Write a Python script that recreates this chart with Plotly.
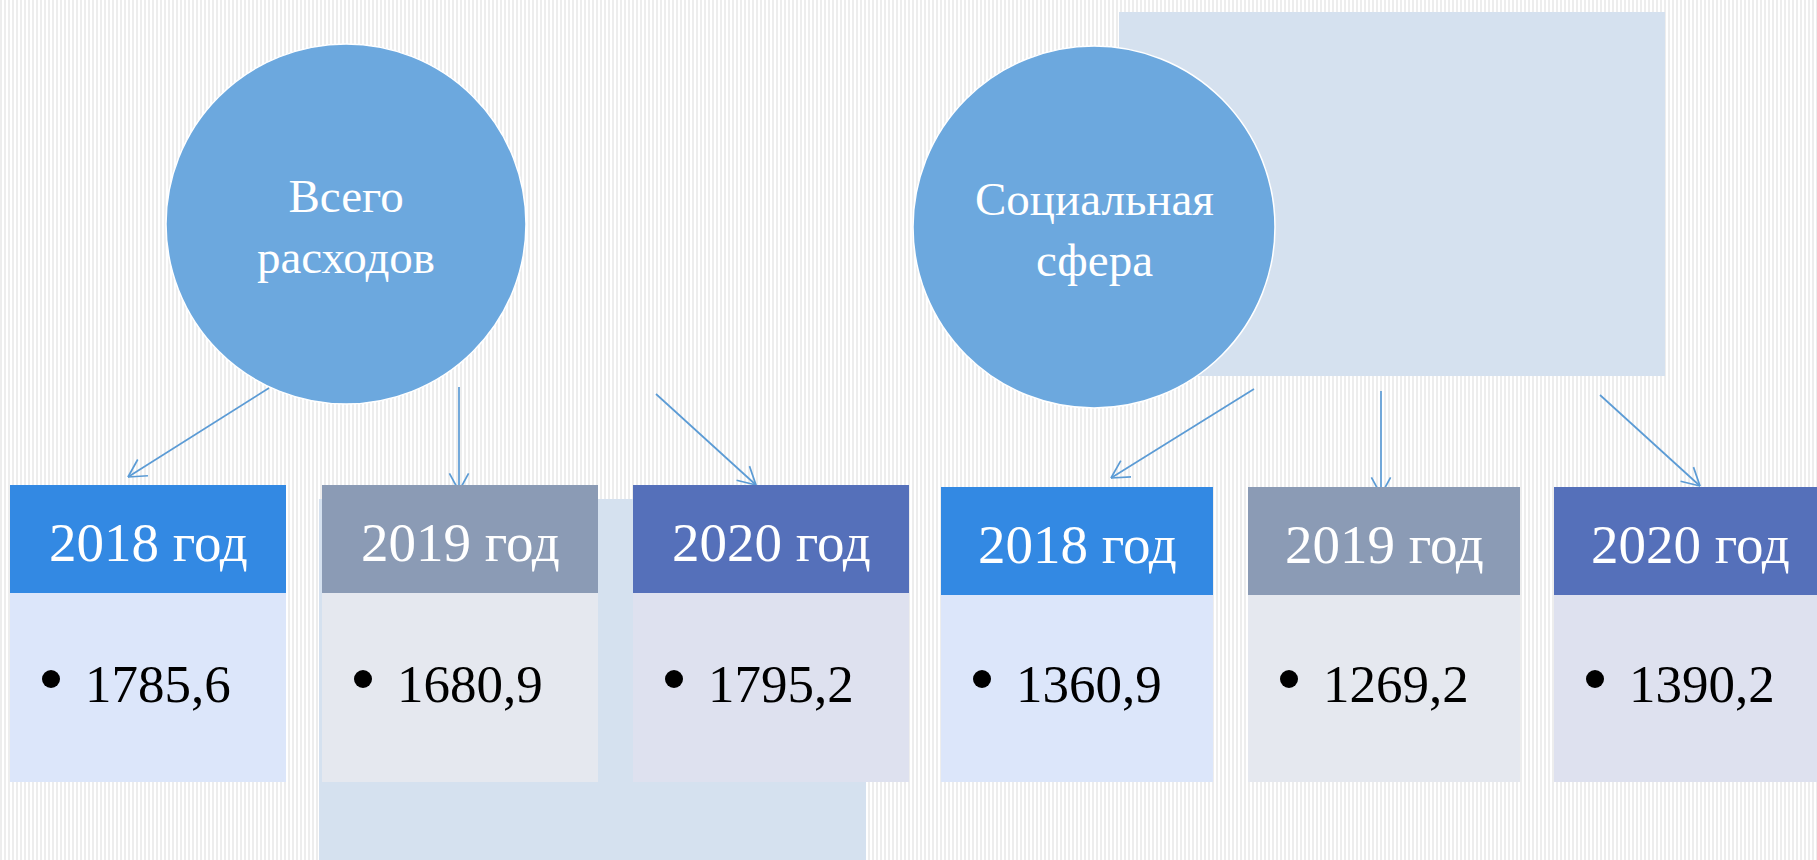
import numpy as np
import plotly.graph_objects as go

W, H = 1817, 860

# ---- data ----
group_titles = ["Всего<br>расходов", "Социальная<br>сфера"]
year_labels = ["2018 год", "2019 год", "2020 год"]
total_expenses = [1785.6, 1680.9, 1795.2]
social_sphere = [1360.9, 1269.2, 1390.2]
group_values = [total_expenses, social_sphere]

# ---- styles ----
header_colors = ["#3389E3", "#8B9BB5", "#5570BA"]
body_colors = ["#DCE6FA", "#E5E8EF", "#DEE1EF"]
circle_color = "#6CA8DE"
backdrop_color = "#D5E1EF"
arrow_color = "#5B9BD5"
stripe_color = "#EDEDED"
FONT = "Palatino Linotype, Book Antiqua, Palatino, Liberation Serif, serif"

# ---- layout geometry (pixels) ----
circle_centers = [(346, 224), (1094, 227)]
circle_radius = [180, 181]
box_lefts = [[10, 322, 633], [941, 1248, 1554]]
box_widths = [276, 272]
header_tops = [485, 487]
header_bottoms = [593, 595]
body_bottom = 782
arrow_starts = [[(269, 388), (459, 387), (656, 394)], [(1254, 389), (1381, 391), (1600, 395)]]
arrow_ends = [[(128, 477), (459, 491), (756, 485)], [(1111, 478), (1381, 495), (1700, 486)]]
backdrops = [(319, 499, 866, 880), (1119, 12, 1665, 376)]

fig = go.Figure()

# striped background
sx, sy = [], []
for xv in np.arange(1, W + 4, 4):
    sx += [xv, xv, None]
    sy += [-10, H + 10, None]
fig.add_trace(go.Scatter(x=sx, y=sy, mode="lines", line=dict(color=stripe_color, width=2),
                         hoverinfo="skip", showlegend=False))

shapes = []
annotations = []

for (x0, y0, x1, y1) in backdrops:
    shapes.append(dict(type="rect", x0=x0, y0=y0, x1=x1, y1=y1, fillcolor=backdrop_color,
                       line=dict(width=0), layer="above"))

for g in range(2):
    cx, cy = circle_centers[g]
    r = circle_radius[g]
    shapes.append(dict(type="circle", x0=cx - r, y0=cy - r, x1=cx + r, y1=cy + r,
                       fillcolor=circle_color, line=dict(color="white", width=1.5), layer="above"))
    annotations.append(dict(x=cx, y=cy + 2, text=group_titles[g], showarrow=False,
                            font=dict(family=FONT, size=47, color="white"),
                            xanchor="center", yanchor="middle"))

    # arrows
    for i in range(3):
        (ax, ay), (bx, by) = arrow_starts[g][i], arrow_ends[g][i]
        shapes.append(dict(type="line", x0=ax, y0=ay, x1=bx, y1=by,
                           line=dict(color=arrow_color, width=1.7), layer="above"))
        ang = np.arctan2(ay - by, ax - bx)
        for d in (0.5, -0.5):
            hx = bx + 20 * np.cos(ang + d)
            hy = by + 20 * np.sin(ang + d)
            shapes.append(dict(type="line", x0=bx, y0=by, x1=hx, y1=hy,
                               line=dict(color=arrow_color, width=1.7), layer="above"))

    # boxes
    w = box_widths[g]
    for i in range(3):
        left = box_lefts[g][i]
        ht, hb = header_tops[g], header_bottoms[g]
        shapes.append(dict(type="rect", x0=left, y0=hb, x1=left + w, y1=body_bottom,
                           fillcolor=body_colors[i], line=dict(width=0), layer="above"))
        shapes.append(dict(type="rect", x0=left, y0=ht, x1=left + w, y1=hb,
                           fillcolor=header_colors[i], line=dict(width=0), layer="above"))
        annotations.append(dict(x=left + w / 2, y=(ht + hb) / 2 + 3, text=year_labels[i],
                                showarrow=False, font=dict(family=FONT, size=55, color="white"),
                                xanchor="center", yanchor="middle"))
        # bullet
        shapes.append(dict(type="circle", x0=left + 32, y0=670, x1=left + 50, y1=688,
                           fillcolor="black", line=dict(width=0), layer="above"))
        val = f"{group_values[g][i]:.1f}".replace(".", ",")
        annotations.append(dict(x=left + 73, y=684, text=val, showarrow=False,
                                font=dict(family=FONT, size=53, color="black"),
                                xanchor="left", yanchor="middle"))

fig.update_layout(
    width=W, height=H,
    margin=dict(l=0, r=0, t=0, b=0),
    paper_bgcolor="white", plot_bgcolor="white",
    xaxis=dict(range=[0, W], visible=False, fixedrange=True),
    yaxis=dict(range=[H, 0], visible=False, fixedrange=True),
    shapes=shapes, annotations=annotations, showlegend=False,
)

fig.write_html("out.html", config={"displayModeBar": False},
               post_script="document.body.style.margin='0';document.body.style.overflow='hidden';")
